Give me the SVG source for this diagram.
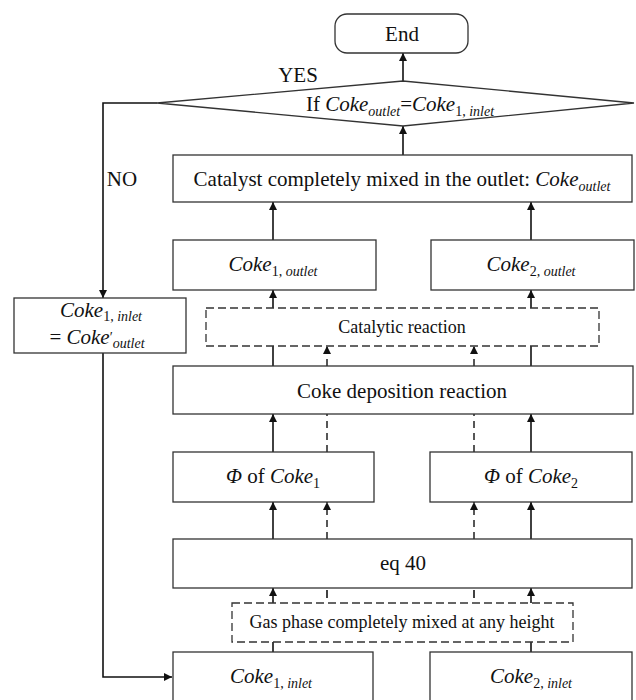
<svg xmlns="http://www.w3.org/2000/svg" width="636" height="700" viewBox="0 0 636 700">
<defs>
<marker id="ah" viewBox="0 0 10 10" refX="10" refY="5" markerWidth="8" markerHeight="8" markerUnits="userSpaceOnUse" orient="auto">
<path d="M0,0 L10,5 L0,10 z" fill="#111"/>
</marker>
</defs>
<style>
.box{fill:#fff;stroke:#333;stroke-width:1.3}
.dbox{fill:#fff;stroke:#333;stroke-width:1.3;stroke-dasharray:8,4}
.t{font-family:"Liberation Serif","Times New Roman",serif;font-size:21px;fill:#111;text-anchor:middle}
.s{font-size:18px}
.m{font-style:italic}
.sub{font-size:14px}
.ln{fill:none;stroke:#111;stroke-width:1.6}
.dl{fill:none;stroke:#111;stroke-width:1.4;stroke-dasharray:7,5}
.arr{marker-end:url(#ah)}
</style>
<rect width="636" height="700" fill="#fff"/>

<g id="connectors">
<line class="ln arr" x1="403" y1="81" x2="403" y2="53"/>
<line class="ln arr" x1="403" y1="155" x2="403" y2="126"/>
<polyline class="ln arr" points="157,103 103,103 103,298"/>
<polyline class="ln arr" points="103,353 103,677 172,677"/>
<line class="ln arr" x1="273" y1="240" x2="273" y2="202"/>
<line class="ln arr" x1="531" y1="240" x2="531" y2="202"/>
<line class="ln arr" x1="273" y1="308" x2="273" y2="290"/>
<line class="ln arr" x1="531" y1="308" x2="531" y2="290"/>
<line class="ln" x1="273" y1="366" x2="273" y2="346"/>
<line class="ln" x1="531" y1="366" x2="531" y2="346"/>
<line class="dl arr" x1="327" y1="366" x2="327" y2="346"/>
<line class="dl arr" x1="474" y1="366" x2="474" y2="346"/>
<line class="ln arr" x1="273" y1="452" x2="273" y2="414"/>
<line class="ln arr" x1="531" y1="452" x2="531" y2="414"/>
<line class="dl" x1="327" y1="452" x2="327" y2="414"/>
<line class="dl" x1="474" y1="452" x2="474" y2="414"/>
<line class="ln arr" x1="273" y1="539" x2="273" y2="502"/>
<line class="ln arr" x1="531" y1="539" x2="531" y2="502"/>
<line class="dl arr" x1="327" y1="539" x2="327" y2="502"/>
<line class="dl arr" x1="474" y1="539" x2="474" y2="502"/>
<line class="ln arr" x1="273" y1="603" x2="273" y2="588"/>
<line class="ln arr" x1="531" y1="603" x2="531" y2="588"/>
<line class="ln" x1="327" y1="590" x2="327" y2="598" stroke-width="1.4"/>
<line class="ln" x1="474" y1="590" x2="474" y2="598" stroke-width="1.4"/>
<line class="ln" x1="273" y1="652" x2="273" y2="642"/>
<line class="ln" x1="531" y1="652" x2="531" y2="642"/>
</g>

<g id="end">
<rect class="box" x="335" y="14" width="133" height="39" rx="12"/>
<text class="t" x="402" y="41">End</text>
</g>

<g id="decision">
<polygon class="box" points="157,103 403,81 634,103 403,126"/>
<text class="t" x="400" y="111">If <tspan class="m">Coke</tspan><tspan class="m sub" dy="5">outlet</tspan><tspan dy="-5">=</tspan><tspan class="m">Coke</tspan><tspan class="sub" dy="5">1, </tspan><tspan class="m sub">inlet</tspan></text>
</g>

<g id="labels">
<text class="t" x="298" y="82">YES</text>
<text class="t" x="122" y="186">NO</text>
</g>

<g id="catalyst-mixed">
<rect class="box" x="173" y="155" width="459" height="47"/>
<text class="t" x="402" y="186">Catalyst completely mixed in the outlet: <tspan class="m">Coke</tspan><tspan class="m sub" dy="5">outlet</tspan></text>
</g>

<g id="coke1-outlet">
<rect class="box" x="173" y="240" width="203" height="50"/>
<text class="t" x="273" y="271"><tspan class="m">Coke</tspan><tspan class="sub" dy="5">1, </tspan><tspan class="m sub">outlet</tspan></text>
</g>

<g id="coke2-outlet">
<rect class="box" x="431" y="240" width="203" height="50"/>
<text class="t" x="531" y="271"><tspan class="m">Coke</tspan><tspan class="sub" dy="5">2, </tspan><tspan class="m sub">outlet</tspan></text>
</g>

<g id="reset">
<rect class="box" x="14" y="298" width="172" height="55"/>
<text class="t" x="101" y="317"><tspan class="m">Coke</tspan><tspan class="sub" dy="4">1, </tspan><tspan class="m sub">inlet</tspan></text>
<text class="t" x="97" y="344">=  <tspan class="m">Coke</tspan><tspan class="sub" dy="-2">′</tspan><tspan class="m sub" dy="6">outlet</tspan></text>
</g>

<g id="catalytic-reaction">
<rect class="dbox" x="206" y="308" width="393" height="38"/>
<text class="t s" x="402" y="333">Catalytic reaction</text>
</g>

<g id="coke-deposition">
<rect class="box" x="173" y="366" width="460" height="48"/>
<text class="t" x="402" y="398">Coke deposition reaction</text>
</g>

<g id="phi-coke1">
<rect class="box" x="173" y="452" width="201" height="50"/>
<text class="t" x="273" y="483"><tspan class="m">Φ</tspan> of <tspan class="m">Coke</tspan><tspan class="sub" dy="5">1</tspan></text>
</g>

<g id="phi-coke2">
<rect class="box" x="430" y="452" width="202" height="50"/>
<text class="t" x="531" y="483"><tspan class="m">Φ</tspan> of <tspan class="m">Coke</tspan><tspan class="sub" dy="5">2</tspan></text>
</g>

<g id="eq40">
<rect class="box" x="173" y="539" width="459" height="49"/>
<text class="t" x="403" y="570">eq 40</text>
</g>

<g id="gas-phase">
<rect class="dbox" x="232" y="603" width="341" height="39"/>
<text class="t s" x="402" y="628">Gas phase completely mixed at any height</text>
</g>

<g id="coke1-inlet">
<rect class="box" x="173" y="652" width="200" height="60"/>
<text class="t" x="271" y="683"><tspan class="m">Coke</tspan><tspan class="sub" dy="5">1, </tspan><tspan class="m sub">inlet</tspan></text>
</g>

<g id="coke2-inlet">
<rect class="box" x="430" y="652" width="202" height="60"/>
<text class="t" x="531" y="683"><tspan class="m">Coke</tspan><tspan class="sub" dy="5">2, </tspan><tspan class="m sub">inlet</tspan></text>
</g>
</svg>
